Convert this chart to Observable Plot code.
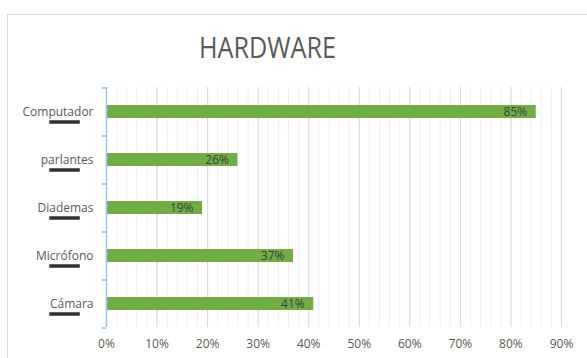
<!DOCTYPE html>
<html>
<head>
<meta charset="utf-8">
<script src="https://cdn.jsdelivr.net/npm/d3@7"></script>
<script src="https://cdn.jsdelivr.net/npm/@observablehq/plot@0.6"></script>
<style>
  html, body { margin: 0; padding: 0; width: 587px; height: 358px; overflow: hidden; background: #fff; }
  #frame { position: absolute; left: 7px; top: 14px; width: 640px; height: 400px; border: 1px solid #d9d9d9; }
  #title { position: absolute; left: 0; top: 29px; width: 535px; text-align: center;
           font-family: "Open Sans", sans-serif; font-size: 30px; color: #595959; line-height: 36px;
           transform: scaleX(0.84); transform-origin: 267.5px 50%; }
  #chart { position: absolute; left: 0; top: 0; }
</style>
</head>
<body>
<div id="frame"></div>
<div id="title">HARDWARE</div>
<div id="chart"></div>
<script>
const categories = ["Computador", "parlantes", "Diademas", "Micrófono", "Cámara"];
const values = [0.85, 0.26, 0.19, 0.37, 0.41];
const xTicks = [0, 0.1, 0.2, 0.3, 0.4, 0.5, 0.6, 0.7, 0.8, 0.9];
const minorTicks = d3.range(0, 46).map(i => i * 0.02).filter(v => v <= 0.9);

const data = categories.map((c, i) => ({category: c, value: values[i]}));
const pct = d3.format(".0%");
const bandStep = (358 - 31 - 87) / categories.length;

// a short horizontal stroke symbol for the marker underlines
const dash = {draw(ctx, size) { ctx.moveTo(-15, -1.5); ctx.lineTo(15, -1.5); ctx.lineTo(15, 1.5); ctx.lineTo(-15, 1.5); ctx.closePath(); }};

const chart = Plot.plot({
  width: 587,
  height: 358,
  marginLeft: 106,
  marginRight: 26,
  marginTop: 87,
  marginBottom: 31,
  style: {fontFamily: "'Open Sans', sans-serif", fontSize: "12px", color: "#595959", background: "transparent"},
  x: {domain: [0, 0.9], label: null},
  y: {domain: categories, paddingInner: 0.73, paddingOuter: 0.365, label: null},
  marks: [
    Plot.ruleX(minorTicks, {x: d => d, stroke: "#efefef", strokeWidth: 1}),
    Plot.ruleX(xTicks, {x: d => d, stroke: "#d9d9d9", strokeWidth: 1}),
    Plot.barX(data, {y: "category", x: "value", fill: "#70AD47"}),
    Plot.text(data, {y: "category", x: "value", text: d => pct(d.value), textAnchor: "end", dx: -9, fill: "#404040", fontSize: 12}),
    Plot.ruleX([0], {stroke: "#9DC3E6", strokeWidth: 1.5}),
    Plot.ruleY(categories, {y: d => d, x1: 0, x2: -0.008, dy: -bandStep / 2, stroke: "#9DC3E6", strokeWidth: 1.5}),
    Plot.ruleY(categories.slice(-1), {y: d => d, x1: 0, x2: -0.008, dy: bandStep / 2, stroke: "#9DC3E6", strokeWidth: 1.5}),
    Plot.dot(categories, {y: d => d, x: 0, dx: -42, dy: 10, symbol: dash, r: 4, fill: "#1a1a1a", stroke: "#444", strokeWidth: 0.6, fillOpacity: 0.9}),
    Plot.axisX({ticks: xTicks, tickFormat: pct, tickSize: 0, tickPadding: 12, fill: "#595959", label: null}),
    Plot.axisY({tickSize: 0, tickPadding: 13, fill: "#595959", label: null})
  ]
});
document.getElementById("chart").appendChild(chart);
</script>
</body>
</html>
